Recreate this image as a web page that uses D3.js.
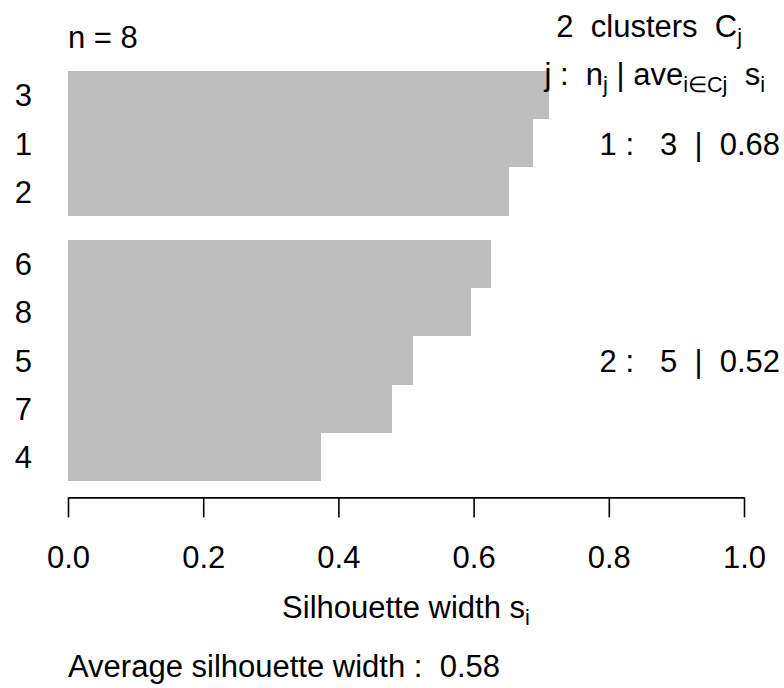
<!DOCTYPE html>
<html>
<head>
<meta charset="utf-8">
<script src="https://cdn.jsdelivr.net/npm/d3@7"></script>
<style>
  html, body { margin: 0; padding: 0; background: #ffffff; }
  svg text { font-family: "Liberation Sans", Arial, Helvetica, sans-serif; fill: #000; white-space: pre; }
</style>
</head>
<body>
<svg id="chart" width="784" height="688"></svg>
<script>
// Silhouette widths, ordered within each cluster from largest to smallest
const obsLabels = ["3", "1", "2", "6", "8", "5", "7", "4"];
const clusterIds = [1, 1, 1, 2, 2, 2, 2, 2];
const silWidths = [0.712, 0.688, 0.652, 0.626, 0.596, 0.510, 0.479, 0.374];
const xTicks = [0, 0.2, 0.4, 0.6, 0.8, 1.0];

const svg = d3.select("#chart");
const FS = 31;          // base font size
const SUB = FS * 0.7;   // subscript font size
const SUBSHIFT = 7;     // subscript baseline drop

// bar slots: width 1, space 0.5 between clusters
const slots = [];
let pos = 0;
silWidths.forEach((w, i) => {
  if (i > 0 && clusterIds[i] !== clusterIds[i - 1]) pos += 0.5;
  slots.push({ label: obsLabels[i], cluster: clusterIds[i], value: w, y0: pos, y1: pos + 1 });
  pos += 1;
});

const x = d3.scaleLinear().domain([0, 1]).range([68, 744]);
const y = d3.scaleLinear().domain([-0.34, pos + 0.34]).range([54.6, 497.4]);

// bars
svg.append("g").attr("shape-rendering", "crispEdges")
  .selectAll("rect").data(slots).join("rect")
  .attr("x", x(0))
  .attr("y", d => y(d.y0))
  .attr("width", d => x(d.value) - x(0))
  .attr("height", d => y(d.y1) - y(d.y0))
  .attr("fill", "#bebebe");

// observation labels on the left
svg.append("g").selectAll("text").data(slots).join("text")
  .attr("x", 32)
  .attr("y", d => y((d.y0 + d.y1) / 2))
  .attr("dy", "0.36em")
  .attr("text-anchor", "end")
  .attr("font-size", FS)
  .text(d => d.label);

// x axis
const axisY = y(pos + 0.34);
const axis = d3.axisBottom(x)
  .tickValues(xTicks)
  .tickFormat(d3.format(".1f"))
  .tickSize(20)
  .tickSizeOuter(0);
const gx = svg.append("g").attr("transform", `translate(0,${axisY})`).call(axis);
gx.select(".domain").attr("stroke", "#000").attr("stroke-width", 1.6);
gx.selectAll(".tick line").attr("stroke", "#000").attr("stroke-width", 1.6);
gx.selectAll(".tick text")
  .attr("font-size", FS).attr("font-family", null).attr("fill", "#000")
  .attr("y", 568 - axisY).attr("dy", null);

// helper for text with subscripts: parts = [[text, isSub], ...]
function richText(parent, xPos, yPos, parts, anchor) {
  const t = parent.append("text")
    .attr("x", xPos).attr("y", yPos)
    .attr("text-anchor", anchor)
    .attr("font-size", FS);
  let shifted = false;
  parts.forEach(([s, sub]) => {
    const ts = t.append("tspan").text(s);
    if (sub) {
      ts.attr("font-size", SUB);
      if (!shifted) { ts.attr("dy", SUBSHIFT); shifted = true; }
    } else if (shifted) {
      ts.attr("dy", -SUBSHIFT); shifted = false;
    }
  });
  return t;
}

// header
svg.append("text").attr("x", 68).attr("y", 48).attr("font-size", FS).text("n = " + silWidths.length);

const nClusters = new Set(clusterIds).size;
richText(svg, 742, 37, [[nClusters + "  clusters  C", false], ["j", true]], "end");
richText(svg, 765, 85, [["j :  n", false], ["j", true], [" | ave", false], ["i\u2208Cj", true], ["  s", false], ["i", true]], "end");

// per-cluster summaries
const groups = d3.groups(slots, d => d.cluster);
groups.forEach(([cl, rows]) => {
  const avg = d3.mean(rows, d => d.value);
  const yc = d3.mean(rows, d => y((d.y0 + d.y1) / 2));
  svg.append("text")
    .attr("x", 780).attr("y", yc).attr("dy", "0.36em")
    .attr("text-anchor", "end")
    .attr("font-size", FS)
    .text(cl + " :   " + rows.length + "  |  " + avg.toFixed(2));
});

// axis title
richText(svg, (x(0) + x(1)) / 2, 618, [["Silhouette width s", false], ["i", true]], "middle");

// overall average
svg.append("text").attr("x", 68).attr("y", 677).attr("font-size", FS)
  .text("Average silhouette width :  " + d3.mean(silWidths).toFixed(2));
</script>
</body>
</html>
